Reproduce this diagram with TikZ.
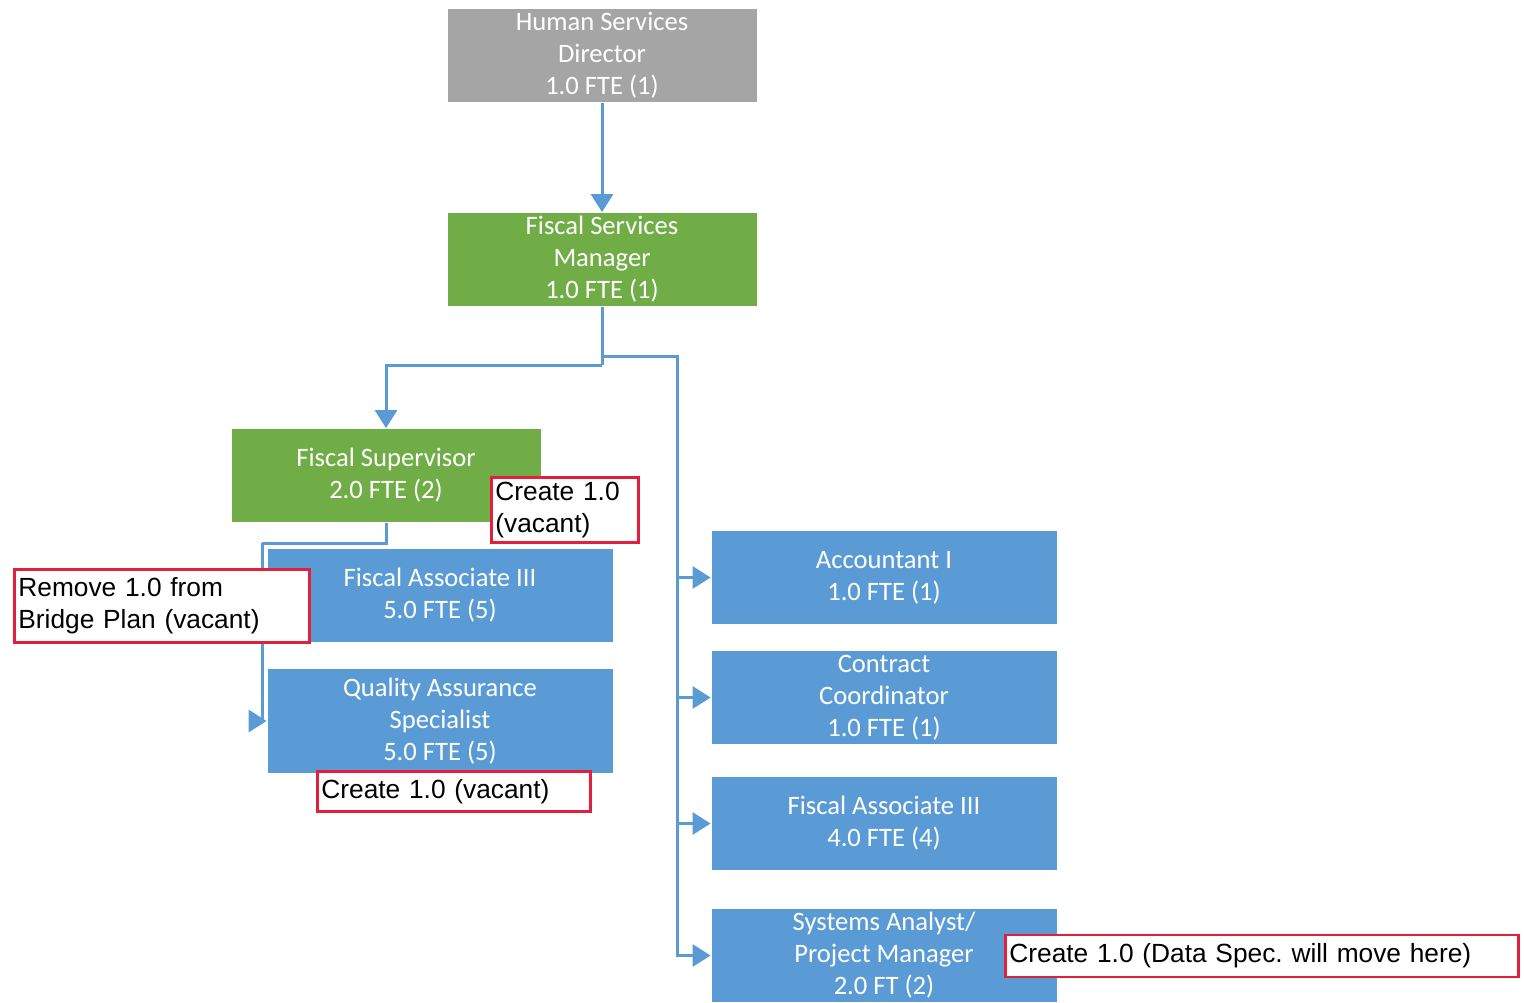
\documentclass[tikz,border=0pt]{standalone}
\usepackage{fontspec}
\setmainfont{Carlito}
\newfontfamily\arial{Liberation Sans}
\usetikzlibrary{arrows.meta}
\frenchspacing
\definecolor{boxgray}{HTML}{A5A5A5}
\definecolor{boxgreen}{HTML}{70AD47}
\definecolor{boxblue}{HTML}{5B9BD5}
\definecolor{linkblue}{HTML}{5B9BD5}
\definecolor{notered}{HTML}{E0203C}
\tikzset{
  role/.style={draw=white, line width=0.4pt, text=white, inner sep=0pt,
    align=center, font=\fontsize{13.3}{16}\selectfont,
    minimum width=155pt, minimum height=47pt},
  wide/.style={role, minimum width=173pt},
  tall/.style={role, minimum width=173pt, minimum height=52.5pt},
  gray/.style={fill=boxgray},
  green/.style={fill=boxgreen},
  blue/.style={fill=boxblue},
  conn/.style={draw=linkblue, line width=1.5pt},
  arr/.style={conn, -{Triangle[length=9pt,width=11pt]}},
  note/.style={draw=notered, line width=1.4pt, fill=white, anchor=north west,
    inner xsep=2pt, inner ysep=0pt, align=left,
    font=\arial\fontsize{13.15}{16}\selectfont},
}
\begin{document}
\begin{tikzpicture}[x=0.5pt, y=-0.5pt]
\useasboundingbox (0,0) rectangle (1524,1002);

% top of the hierarchy
\node[role, gray]  (dir)  at (602,55.5)  {Human Services\\Director\\1.0 FTE (1)};
\node[role, green] (fsm)  at (602,259.5) {Fiscal Services\\Manager\\1.0 FTE (1)};
\node[role, green] (fsup) at (386,475.5) {Fiscal Supervisor\\2.0 FTE (2)};

% units under the supervisor
\node[wide, blue] (fa3l) at (440,595) {Fiscal Associate III\\5.0 FTE (5)};
\node[tall, blue] (qa)   at (440,721) {Quality Assurance\\Specialist\\5.0 FTE (5)};

% units reporting to the manager
\node[wide, blue] (acc)  at (884,577.5) {Accountant I\\1.0 FTE (1)};
\node[wide, blue] (cc)   at (884,697.5) {Contract\\Coordinator\\1.0 FTE (1)};
\node[wide, blue] (fa3r) at (884,823.5) {Fiscal Associate III\\4.0 FTE (4)};
\node[wide, blue] (sa)   at (884,955.5) {Systems Analyst/\\Project Manager\\2.0 FT (2)};

% reporting lines
\draw[arr] (dir.south) -- (fsm.north);

\coordinate (split) at (602,365);
\coordinate (tee)   at (602,356);
\coordinate (bus)   at (677,356);
\draw[conn] (fsm.south) -- (split);
\draw[arr] (split) -| (fsup.north);
\draw[arr] (tee) -- (bus) |- (sa.west);
\draw[arr] (bus |- acc.west)  -- (acc.west);
\draw[arr] (bus |- cc.west)   -- (cc.west);
\draw[arr] (bus |- fa3r.west) -- (fa3r.west);

\coordinate (lbus) at (262,543);
\draw[conn] (fsup.south) |- (lbus);
\draw[arr] (lbus) |- (qa.west);
\draw[arr] (lbus |- fa3l.west) -- (fa3l.west);

% change notes
\node[note, minimum width=73.5pt, minimum height=32.5pt, text width=69.5pt] (n1) at (490,476)
  {Create 1.0\\(vacant)};
\node[note, minimum width=147.5pt, minimum height=36.5pt, text width=143.5pt] (n2) at (13,568)
  {Remove 1.0 from\\Bridge Plan (vacant)};
\node[note, minimum width=136.5pt, minimum height=20pt, text width=132.5pt] (n3) at (316,770)
  {Create 1.0 (vacant)};
\node[note, minimum width=256.5pt, minimum height=21pt, text width=252.5pt] (n4) at (1004,933.5)
  {Create 1.0 (Data Spec. will move here)};
\end{tikzpicture}
\end{document}
